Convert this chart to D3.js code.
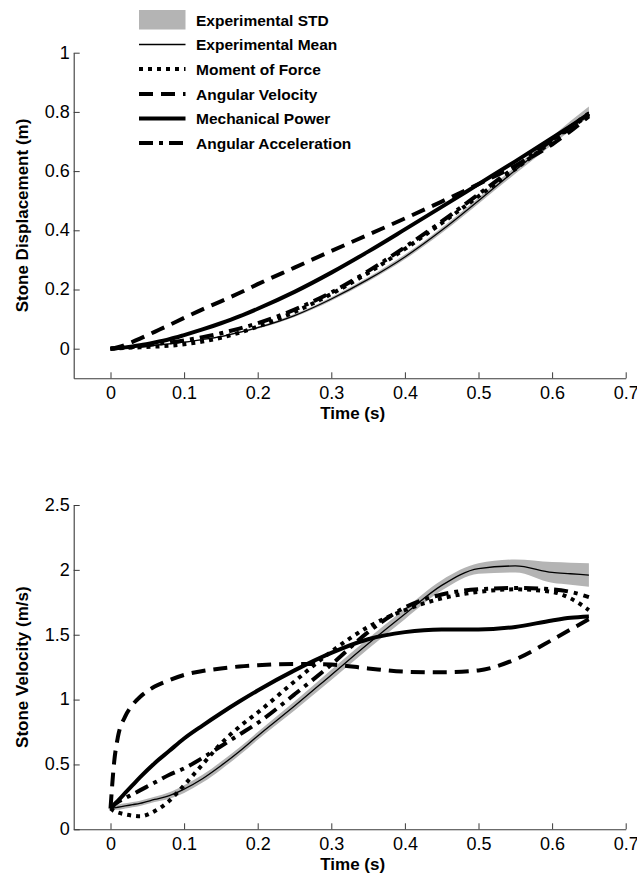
<!DOCTYPE html>
<html>
<head>
<meta charset="utf-8">
<script src="https://cdn.jsdelivr.net/npm/d3@7"></script>
<style>
  html, body { margin: 0; padding: 0; background: #fff; }
  svg { display: block; }
  text { font-family: "Liberation Sans", Arial, Helvetica, sans-serif; fill: #000; }
</style>
</head>
<body>
<svg id="chart" width="637" height="875"></svg>
<script>
// ---- data ----
const time = [0, 0.005, 0.01, 0.02, 0.03, 0.04, 0.06, 0.08, 0.1, 0.125, 0.15, 0.175, 0.2, 0.25, 0.3, 0.35, 0.4, 0.45, 0.5, 0.55, 0.6, 0.625, 0.65];

// Stone displacement (m)
const dispMean   = [0, 0.0008, 0.0017, 0.0035, 0.0053, 0.0073, 0.0117, 0.0166, 0.022, 0.031, 0.041, 0.055, 0.071, 0.112, 0.168, 0.234, 0.31, 0.40, 0.50, 0.603, 0.703, 0.753, 0.80];
const dispStd    = [0, 0, 0, 0, 0, 0, 0.001, 0.001, 0.002, 0.002, 0.003, 0.003, 0.004, 0.005, 0.006, 0.007, 0.008, 0.009, 0.010, 0.012, 0.014, 0.016, 0.018];
const dispMoment = [0, 0.0008, 0.0015, 0.0027, 0.0038, 0.0048, 0.007, 0.010, 0.015, 0.024, 0.037, 0.054, 0.075, 0.124, 0.185, 0.256, 0.337, 0.424, 0.515, 0.607, 0.70, 0.746, 0.79];
const dispAngVel = [0, 0.002, 0.005, 0.013, 0.023, 0.034, 0.057, 0.08, 0.104, 0.133, 0.16, 0.188, 0.218, 0.274, 0.33, 0.385, 0.44, 0.497, 0.556, 0.618, 0.69, 0.735, 0.785];
const dispPower  = [0, 0.0009, 0.002, 0.0045, 0.0077, 0.0115, 0.021, 0.032, 0.046, 0.065, 0.086, 0.109, 0.135, 0.192, 0.257, 0.328, 0.403, 0.479, 0.556, 0.633, 0.712, 0.752, 0.793];
const dispAccel  = [0, 0.001, 0.002, 0.004, 0.006, 0.009, 0.015, 0.021, 0.028, 0.039, 0.052, 0.068, 0.086, 0.132, 0.19, 0.262, 0.343, 0.43, 0.522, 0.614, 0.705, 0.75, 0.795];

// Stone velocity (m/s)
const velMean   = [0.16, 0.165, 0.17, 0.18, 0.19, 0.20, 0.23, 0.26, 0.31, 0.39, 0.49, 0.60, 0.72, 0.95, 1.19, 1.43, 1.66, 1.88, 2.01, 2.03, 1.98, 1.97, 1.96];
const velStd    = [0.015, 0.015, 0.02, 0.02, 0.02, 0.02, 0.02, 0.025, 0.03, 0.03, 0.03, 0.03, 0.03, 0.035, 0.04, 0.04, 0.04, 0.04, 0.04, 0.05, 0.08, 0.085, 0.09];
const velMoment = [0.16, 0.14, 0.13, 0.115, 0.105, 0.10, 0.14, 0.22, 0.34, 0.50, 0.66, 0.79, 0.90, 1.14, 1.37, 1.56, 1.69, 1.78, 1.83, 1.85, 1.83, 1.78, 1.69];
const velAngVel = [0.16, 0.52, 0.71, 0.87, 0.96, 1.02, 1.10, 1.15, 1.19, 1.22, 1.24, 1.255, 1.265, 1.275, 1.27, 1.24, 1.215, 1.21, 1.225, 1.31, 1.46, 1.54, 1.62];
const velPower  = [0.16, 0.19, 0.22, 0.28, 0.34, 0.40, 0.51, 0.605, 0.70, 0.80, 0.895, 0.985, 1.07, 1.225, 1.36, 1.465, 1.52, 1.54, 1.54, 1.56, 1.61, 1.63, 1.64];
const velAccel  = [0.16, 0.19, 0.21, 0.24, 0.27, 0.30, 0.36, 0.42, 0.47, 0.55, 0.64, 0.73, 0.82, 1.04, 1.27, 1.52, 1.71, 1.81, 1.85, 1.86, 1.85, 1.83, 1.79];

const xTicks = [0, 0.1, 0.2, 0.3, 0.4, 0.5, 0.6, 0.7];
const yTicksTop = [0, 0.2, 0.4, 0.6, 0.8, 1];
const yTicksBottom = [0, 0.5, 1, 1.5, 2, 2.5];
const legendLabels = ["Experimental STD", "Experimental Mean", "Moment of Force", "Angular Velocity", "Mechanical Power", "Angular Acceleration"];

// ---- styles ----
const styles = {
  mean:   { width: 1.3, dash: null },
  moment: { width: 4, dash: "4,5" },
  angvel: { width: 4, dash: "14,8" },
  power:  { width: 4, dash: null },
  accel:  { width: 4, dash: "14,6,4,6" }
};
const bandColor = "#b4b4b4";
const axisColor = "#3a3a3a";

const svg = d3.select("#chart");

function drawPanel(cfg) {
  const x = d3.scaleLinear().domain([-0.05, 0.7]).range([73.7, 625.7]);
  const y = d3.scaleLinear().domain(cfg.yDomain).range(cfg.yRange);
  const g = svg.append("g");

  // STD band
  const area = d3.area()
    .x((d, i) => x(time[i]))
    .y0((d, i) => y(cfg.mean[i] - cfg.std[i]))
    .y1((d, i) => y(cfg.mean[i] + cfg.std[i]))
    .curve(d3.curveMonotoneX);
  g.append("path").datum(cfg.mean).attr("d", area).attr("fill", bandColor);

  const line = d3.line().x((d, i) => x(time[i])).y(d => y(d)).curve(d3.curveMonotoneX);
  const series = [
    [cfg.mean, styles.mean],
    [cfg.moment, styles.moment],
    [cfg.angvel, styles.angvel],
    [cfg.power, styles.power],
    [cfg.accel, styles.accel]
  ];
  series.forEach(([vals, st]) => {
    g.append("path").datum(vals).attr("d", line)
      .attr("fill", "none").attr("stroke", "#000")
      .attr("stroke-width", st.width)
      .attr("stroke-dasharray", st.dash)
      .attr("stroke-linejoin", "round");
  });

  // axes
  const xAxis = d3.axisBottom(x).tickValues(xTicks).tickSize(-6).tickSizeOuter(0)
    .tickPadding(8).tickFormat(d3.format("~g"));
  const gx = g.append("g").attr("transform", `translate(0,${cfg.yRange[0]})`).call(xAxis);
  const yAxis = d3.axisLeft(y).tickValues(cfg.yTicks).tickSize(-6).tickSizeOuter(0)
    .tickPadding(4).tickFormat(d3.format("~g"));
  const gy = g.append("g").attr("transform", `translate(73.7,0)`).call(yAxis);
  [gx, gy].forEach(a => {
    a.select(".domain").attr("stroke", axisColor).attr("stroke-width", 1.1);
    a.selectAll(".tick line").attr("stroke", axisColor).attr("stroke-width", 1);
    a.selectAll(".tick text").style("font-size", "18px").style("font-family", "'Liberation Sans', Arial, sans-serif").attr("fill", "#000");
  });
  gy.selectAll(".tick text").attr("dy", "0.3em");

  g.append("text").attr("x", (x(-0.05) + x(0.7)) / 2 + 3).attr("y", cfg.yRange[0] + 41)
    .attr("text-anchor", "middle").style("font-size", "17px").style("font-weight", "bold")
    .text("Time (s)");
  const cy = (cfg.yRange[0] + cfg.yRange[1]) / 2;
  g.append("text").attr("transform", `translate(28,${cy}) rotate(-90)`)
    .attr("text-anchor", "middle").style("font-size", "17px").style("font-weight", "bold")
    .text(cfg.yLabel);
  return { x, y };
}

drawPanel({
  yDomain: [-0.1, 1], yRange: [378.3, 52.7], yTicks: yTicksTop,
  mean: dispMean, std: dispStd, moment: dispMoment, angvel: dispAngVel, power: dispPower, accel: dispAccel,
  yLabel: "Stone Displacement (m)"
});
drawPanel({
  yDomain: [0, 2.5], yRange: [829.3, 505], yTicks: yTicksBottom,
  mean: velMean, std: velStd, moment: velMoment, angvel: velAngVel, power: velPower, accel: velAccel,
  yLabel: "Stone Velocity (m/s)"
});

// legend
const legRows = [20, 44.5, 69, 94, 118.5, 143];
const legKeys = ["band", "mean", "moment", "angvel", "power", "accel"];
const lg = svg.append("g");
legKeys.forEach((k, i) => {
  const yy = legRows[i];
  if (k === "band") {
    lg.append("rect").attr("x", 139).attr("y", yy - 10).attr("width", 46.5).attr("height", 19.5).attr("fill", bandColor);
  } else {
    lg.append("line").attr("x1", 139).attr("x2", 185.5).attr("y1", yy).attr("y2", yy)
      .attr("stroke", "#000").attr("stroke-width", styles[k].width)
      .attr("stroke-dasharray", styles[k].dash);
  }
  lg.append("text").attr("x", 196).attr("y", yy + 5.5)
    .style("font-size", "15.5px").style("font-weight", "bold").text(legendLabels[i]);
});
</script>
</body>
</html>
